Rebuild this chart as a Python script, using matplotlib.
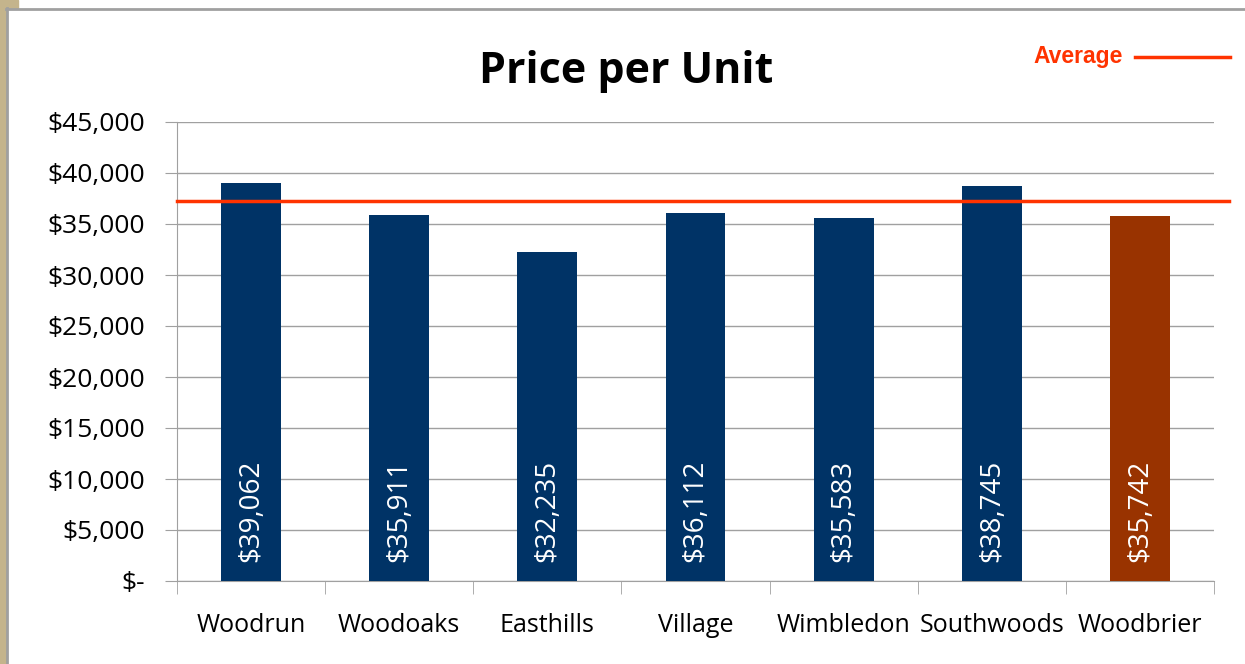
import matplotlib.pyplot as plt
from matplotlib.patches import Rectangle
from matplotlib.lines import Line2D
import numpy as np

# Chart data
communities = ['Woodrun', 'Woodoaks', 'Easthills', 'Village', 'Wimbledon', 'Southwoods', 'Woodbrier']
price_per_unit = [39062, 35911, 32235, 36112, 35583, 38745, 35742]
bar_colors = ['#003366', '#003366', '#003366', '#003366', '#003366', '#003366', '#993300']
average_price = 37250
y_ticks = [0, 5000, 10000, 15000, 20000, 25000, 30000, 35000, 40000, 45000]
y_tick_labels = ['$-', '$5,000', '$10,000', '$15,000', '$20,000', '$25,000',
                 '$30,000', '$35,000', '$40,000', '$45,000']

fig = plt.figure(figsize=(12.45, 6.64), dpi=100)
fig.patch.set_facecolor('white')

# Slide frame: tan strip on the left, thin grey border
fig.patches.append(Rectangle((0, 0), 6 / 1245, 1, transform=fig.transFigure,
                             color='#c4b48c', zorder=0))
fig.patches.append(Rectangle((0, 1 - 8 / 664), 18 / 1245, 8 / 664, transform=fig.transFigure,
                             color='#c4b48c', zorder=0))
fig.lines.append(Line2D([6.5 / 1245, 6.5 / 1245], [0, 1 - 8 / 664], transform=fig.transFigure,
                        color='#a0a0a0', lw=2))
fig.lines.append(Line2D([6 / 1245, 1], [1 - 8.5 / 664, 1 - 8.5 / 664], transform=fig.transFigure,
                        color='#a0a0a0', lw=2))

ax = fig.add_axes([177 / 1245, 83 / 664, 1037 / 1245, 459 / 664])
x = np.arange(len(communities))
ax.bar(x, price_per_unit, width=0.405, color=bar_colors, zorder=3)

for xi, v in zip(x, price_per_unit):
    ax.text(xi, 1900, f'${v:,}', rotation=90, ha='center', va='bottom',
            color='white', fontsize=20, family='Open Sans', zorder=4)

# Average line runs past the plot edge to the right
ax.plot([-0.5, 6.6], [average_price, average_price], color='#ff3300', lw=2.5,
        zorder=5, clip_on=False)

ax.set_xlim(-0.5, 6.5)
ax.set_ylim(0, 45000)
ax.set_yticks(y_ticks)
ax.set_yticklabels(y_tick_labels, family='Open Sans', fontsize=19)
ax.set_xticks(x)
ax.set_xticklabels(communities, family='Open Sans', fontsize=18)
ax.tick_params(axis='x', length=0, pad=23)
ax.set_xticks(np.arange(-0.5, 7, 1), minor=True)
ax.tick_params(axis='x', which='minor', length=9, color='#a0a0a0')
ax.tick_params(axis='y', length=9, color='#a0a0a0', pad=14)

ax.grid(axis='y', color='#a0a0a0', lw=1, zorder=0)
for side in ['top', 'right']:
    ax.spines[side].set_visible(False)
ax.spines['left'].set_color('#a0a0a0')
ax.spines['bottom'].set_color('#a0a0a0')

fig.text(626 / 1245, 1 - 83 / 664, 'Price per Unit', ha='center', va='baseline',
         fontsize=31, fontweight='bold', family='Open Sans')

# Legend
fig.text(1123 / 1245, 1 - 56 / 664, 'Average', ha='right', va='center',
         fontsize=16.5, fontweight='bold', family='Liberation Sans', color='#ff3300')
fig.lines.append(Line2D([1135 / 1245, 1230 / 1245], [1 - 57 / 664, 1 - 57 / 664],
                        transform=fig.transFigure, color='#ff3300', lw=2.5))

fig.savefig('out.png', dpi=100)
